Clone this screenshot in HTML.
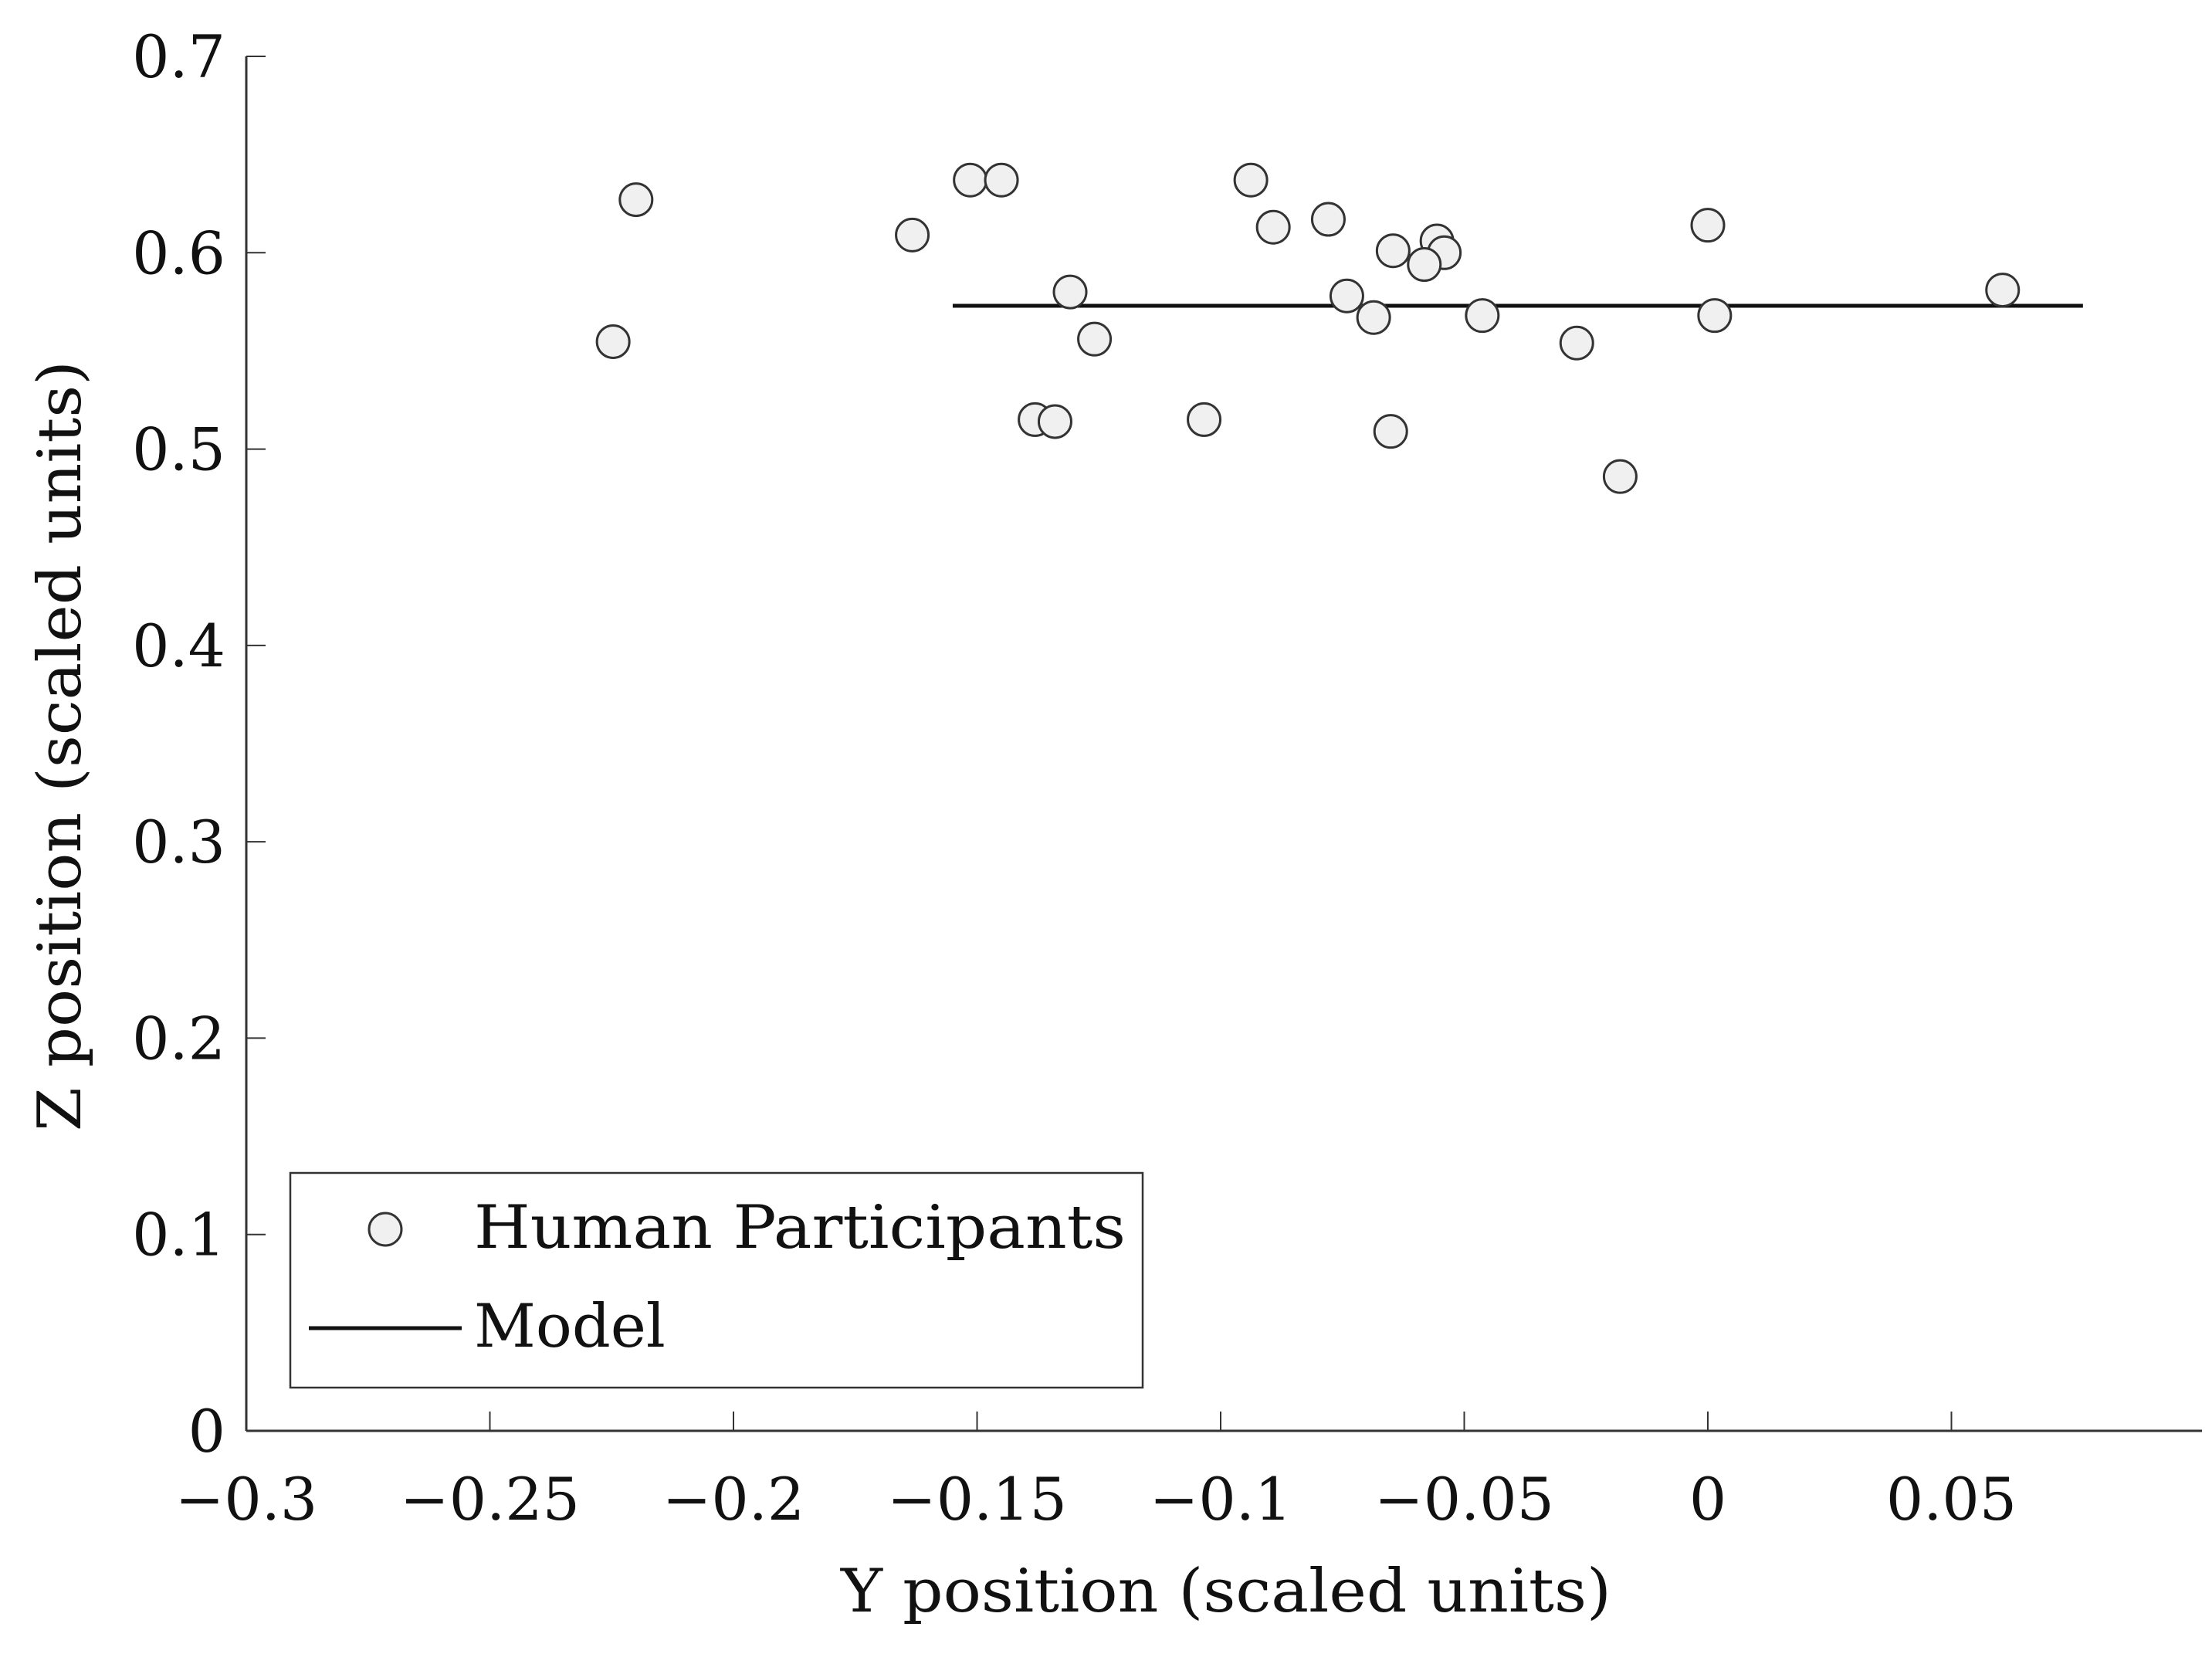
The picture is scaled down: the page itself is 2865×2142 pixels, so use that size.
<!DOCTYPE html>
<html><head><meta charset="utf-8"><style>
html,body{margin:0;padding:0;background:#fff}
svg{display:block}
text{font-family:"DejaVu Serif","Liberation Serif",serif;fill:#111}
</style></head><body>
<svg width="2865" height="2142" viewBox="0 0 2865 2142" xmlns="http://www.w3.org/2000/svg">
<g id="axes"></g>
<g id="marks"></g>
<g id="legend">
  <rect x="376" y="1519" width="1104" height="278" fill="#fff" stroke="#333" stroke-width="2.5"/>
  <circle cx="499" cy="1592" r="21" fill="#f0f0f0" stroke="#333" stroke-width="3"/>
  <text x="614" y="1616" font-size="78" textLength="844" lengthAdjust="spacingAndGlyphs">Human Participants</text>
  <line x1="400" y1="1720" x2="598" y2="1720" stroke="#111" stroke-width="5"/>
  <text x="614" y="1744" font-size="78">Model</text>
</g>
<text x="1588" y="2087" font-size="78" text-anchor="middle" textLength="998" lengthAdjust="spacingAndGlyphs">Y position (scaled units)</text>
<text transform="translate(104,966) rotate(-90)" font-size="78" text-anchor="middle" textLength="998" lengthAdjust="spacingAndGlyphs">Z position (scaled units)</text>
</svg>
<script>
const xTicks = [-0.3,-0.25,-0.2,-0.15,-0.1,-0.05,0,0.05];
const xTickLabels = ["\u22120.3","\u22120.25","\u22120.2","\u22120.15","\u22120.1","\u22120.05","0","0.05"];
const yTicks = [0,0.1,0.2,0.3,0.4,0.5,0.6,0.7];
const yTickLabels = ["0","0.1","0.2","0.3","0.4","0.5","0.6","0.7"];
const humanY = [-0.2247,-0.2200,-0.1633,-0.1514,-0.1450,-0.1381,-0.1340,-0.1309,-0.1259,-0.1034,-0.0938,-0.0892,-0.0779,-0.0741,-0.0686,-0.0651,-0.0646,-0.0556,-0.0541,-0.0582,-0.0463,-0.0269,-0.0180,0.0000,0.0014,0.0605];
const humanZ = [0.5547,0.627,0.609,0.637,0.637,0.515,0.514,0.580,0.556,0.515,0.637,0.613,0.617,0.578,0.567,0.509,0.601,0.606,0.600,0.594,0.568,0.554,0.486,0.614,0.568,0.581];
const modelY = [-0.155,0.077];
const modelZ = [0.573,0.573];

const NS="http://www.w3.org/2000/svg";
const L=319,R=2852,B=1853,T=73;
const sx=v=>2212+(v/0.05)*315.5;
const sy=v=>B-(v/0.7)*(B-T);
function mk(tag,attrs,parent){const e=document.createElementNS(NS,tag);for(const k in attrs)e.setAttribute(k,attrs[k]);parent.appendChild(e);return e;}
const axes=document.getElementById('axes'), marks=document.getElementById('marks');
let e=mk('line',{x1:L,y1:B,x2:R,y2:B,stroke:'#333','stroke-width':3},axes);


e=mk('line',{x1:L,y1:B,x2:L,y2:T,stroke:'#333','stroke-width':3},axes);


xTicks.forEach((v,i)=>{
  const x=sx(v);
  let t=mk('line',{x1:x,y1:B,x2:x,y2:B-25,stroke:'#333','stroke-width':2},axes);
  
  
  let s=mk('text',{x:x,y:1968,'font-size':76,'text-anchor':'middle'},axes);
  s.textContent=xTickLabels[i];
  
  
});
yTicks.forEach((v,i)=>{
  const y=sy(v);
  let t=mk('line',{x1:L,y1:y,x2:L+25,y2:y,stroke:'#333','stroke-width':2},axes);
  
  
  let s=mk('text',{x:292,y:y+27,'font-size':76,'text-anchor':'end'},axes);
  s.textContent=yTickLabels[i];
  
  
});
let ml=mk('line',{x1:sx(modelY[0]),y1:sy(modelZ[0]),x2:sx(modelY[1]),y2:sy(modelZ[1]),stroke:'#111','stroke-width':5},marks);


humanY.forEach((v,i)=>{
  let c=mk('circle',{cx:sx(v),cy:sy(humanZ[i]),r:21,fill:'#f0f0f0',stroke:'#333','stroke-width':3},marks);
  
  
});
</script>
</body></html>
